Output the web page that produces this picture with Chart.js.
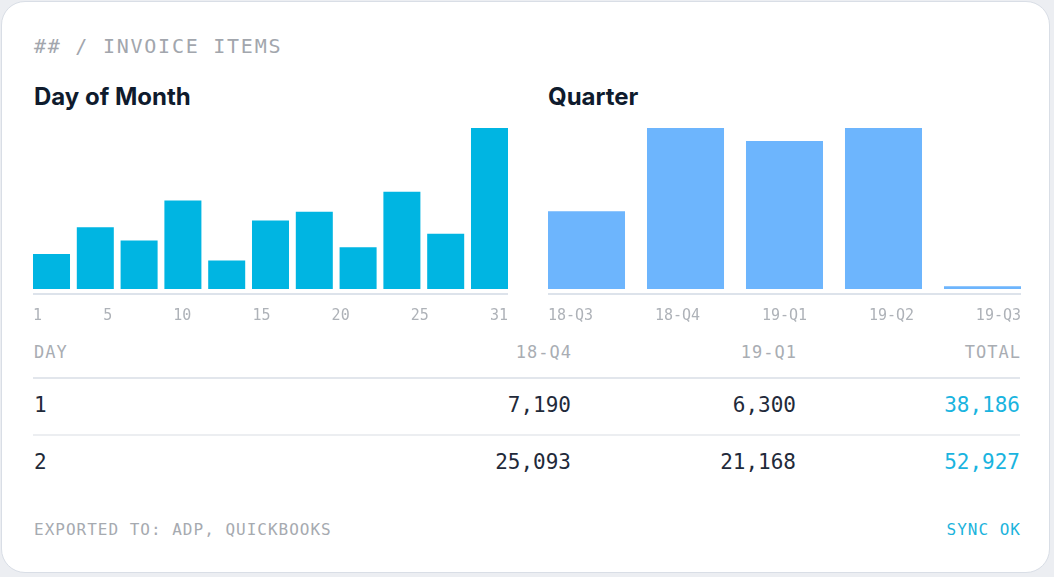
<!DOCTYPE html>
<html>
<head>
<meta charset="utf-8">
<script src="https://cdn.jsdelivr.net/npm/chart.js@4.4.1/dist/chart.umd.min.js"></script>
<style>
  html, body { margin: 0; padding: 0; }
  body { width: 1054px; height: 577px; background: #eceef2; position: relative; overflow: hidden; font-family: "DejaVu Sans Mono", monospace; }
  .card { position: absolute; left: 1px; top: 1px; width: 1049px; height: 572px; background: #fff; border: 1.5px solid #d9dee6; border-radius: 24px; box-sizing: border-box; }
  .abs { position: absolute; line-height: 1; white-space: pre; }
  .title { font-family: Inter, sans-serif; font-weight: 700; font-size: 24px; color: #0f1b2d; top: 85px; }
  .chart { position: absolute; top: 128px; height: 197px; }
  .rule { position: absolute; left: 33px; width: 987px; }
</style>
</head>
<body>
<div class="card"></div>
<div class="abs" style="left:34px;top:36px;font-size:20px;letter-spacing:1.75px;color:#a2a6ad">## / INVOICE ITEMS</div>
<div class="abs title" style="left:34px">Day of Month</div>
<div class="abs title" style="left:548px">Quarter</div>
<div class="chart" style="left:33px;width:475px"><canvas id="dayChart"></canvas></div>
<div class="chart" style="left:548px;width:473px"><canvas id="quarterChart"></canvas></div>
<div id="table"></div>
<div class="abs" style="left:34px;top:522px;font-size:16px;letter-spacing:1px;color:#a6aab0">EXPORTED TO: ADP, QUICKBOOKS</div>
<div class="abs" style="right:33px;top:522px;font-size:16px;letter-spacing:1px;color:#1cb3dc">SYNC OK</div>

<script>
// day-of-month bins (11 bars) and the axis labels under them
const dayBins = ["1-3", "4-6", "7-9", "10-12", "13-15", "16-18", "19-21", "22-24", "25-27", "28-30", "31"];
const dayValues = [350, 615, 483, 883, 283, 683, 770, 416, 970, 550, 1606];
const dayTicks = ["1", "5", "10", "15", "20", "25", "31"];

const quarters = ["18-Q3", "18-Q4", "19-Q1", "19-Q2", "19-Q3"];
const quarterValues = [773, 1603, 1473, 1602, 26];

const tableHead = ["DAY", "18-Q4", "19-Q1", "TOTAL"];
const tableDays = ["1", "2"];
const q4Values = [7190, 25093];
const q1Values = [6300, 21168];
const totalValues = [38186, 52927];

Chart.defaults.font.family = '"DejaVu Sans Mono", monospace';
const tickSize = 15;

// spread tick labels edge to edge with equal gaps between them
function spreadTicks(labels) {
    return function (axis) {
        const ctx = axis.chart.ctx;
        ctx.save();
        ctx.font = tickSize + 'px "DejaVu Sans Mono"';
        const widths = labels.map(t => ctx.measureText(t).width);
        ctx.restore();
        const total = widths.reduce((a, b) => a + b, 0);
        const gap = (axis.width - total) / (labels.length - 1);
        let x = 0;
        axis.ticks = widths.map(w => {
            const v = (x + w / 2) / axis.width;
            x += w + gap;
            return { value: v };
        });
    };
}

function barChart(id, cats, values, colour, barPct, tickLabels) {
    const max = Math.max(...values);
    new Chart(document.getElementById(id), {
        type: "bar",
        data: {
            datasets: [{
                label: cats.join(","),
                data: values.map((v, i) => ({ x: i, y: v })),
                backgroundColor: colour,
                borderWidth: 0,
                barPercentage: barPct,
                categoryPercentage: 1,
                xAxisID: "x",
                yAxisID: "y"
            }]
        },
        options: {
            responsive: true,
            maintainAspectRatio: false,
            animation: false,
            layout: { padding: 0 },
            plugins: { legend: { display: false }, tooltip: { enabled: false } },
            scales: {
                x: {
                    type: "linear",
                    display: false,
                    offset: false,
                    min: -barPct / 2,
                    max: cats.length - 1 + barPct / 2,
                    afterBuildTicks: a => { a.ticks = cats.map((c, i) => ({ value: i })); }
                },
                x2: {
                    type: "linear",
                    position: "bottom",
                    offset: false,
                    min: 0,
                    max: 1,
                    // tick marks hidden, their length only keeps the labels clear of the line
                    grid: { display: false, drawTicks: true, tickLength: 13, offset: false },
                    border: { display: true, color: "#dde3eb", width: 2 },
                    afterBuildTicks: spreadTicks(tickLabels),
                    ticks: {
                        autoSkip: false,
                        maxRotation: 0,
                        padding: 0,
                        color: "#aeb2b8",
                        font: { size: tickSize },
                        callback: (v, i) => tickLabels[i]
                    }
                },
                y: { display: false, min: -max / 32, max: max }
            }
        }
    });
}

barChart("dayChart", dayBins, dayValues, "#00b5e2", 0.845, dayTicks);
barChart("quarterChart", quarters, quarterValues, "#6db5fd", 0.778, quarters);

// table
const fmt = n => n.toLocaleString("en-US");
const colRight = [null, 571, 796, 1020];
let html = "";
tableHead.forEach((h, c) => {
    const pos = c === 0 ? "left:34px" : "right:" + (1054 - colRight[c] - 1) + "px";
    html += '<div class="abs" style="' + pos + ';top:344px;font-size:17px;letter-spacing:1px;color:#a9adb3">' + h + '</div>';
});
html += '<div class="rule" style="top:377px;height:2px;background:#e2e6ec"></div>';
html += '<div class="rule" style="top:434px;height:1.5px;background:#eceef1"></div>';
const rowTop = [395, 452];
tableDays.forEach((d, r) => {
    const cells = [d, fmt(q4Values[r]), fmt(q1Values[r]), fmt(totalValues[r])];
    cells.forEach((t, c) => {
        const pos = c === 0 ? "left:34px" : "right:" + (1054 - colRight[c]) + "px";
        const col = c === 3 ? "#1ab4df" : "#1f2a3a";
        html += '<div class="abs" style="' + pos + ';top:' + rowTop[r] + 'px;font-size:21px;color:' + col + '">' + t + '</div>';
    });
});
document.getElementById("table").innerHTML = html;
</script>
</body>
</html>
